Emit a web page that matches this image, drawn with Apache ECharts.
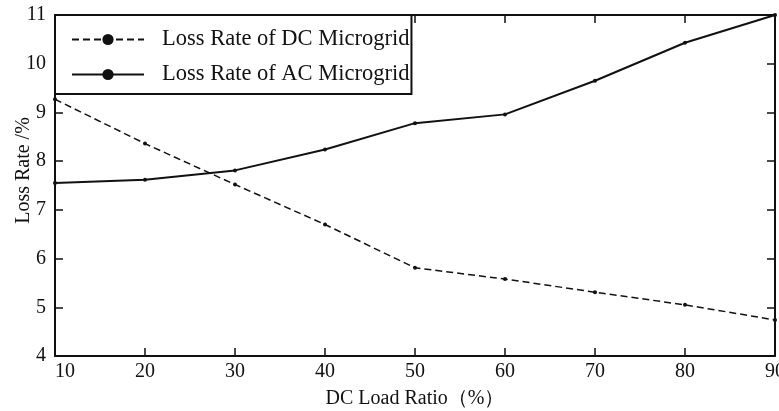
<!DOCTYPE html>
<html>
<head>
<meta charset="utf-8">
<script src="https://cdn.jsdelivr.net/npm/echarts@6/dist/echarts.min.js"></script>
<style>
  html, body { margin: 0; padding: 0; background: #fff; }
  #chart { width: 779px; height: 411px; }
</style>
</head>
<body>
<div id="chart"></div>
<script>
// DC load ratio (%)
var loadRatio = [10, 20, 30, 40, 50, 60, 70, 80, 90];
// loss rate (%) of each microgrid
var dcLoss = [9.27, 8.36, 7.52, 6.70, 5.81, 5.58, 5.31, 5.05, 4.74];
var acLoss = [7.55, 7.62, 7.81, 8.24, 8.78, 8.96, 9.65, 10.43, 11.0];

var seriesNames = ["Loss Rate of DC Microgrid", "Loss Rate of AC Microgrid"];

function pairs(vals) {
  return loadRatio.map(function (x, i) {
    return [x, vals[i]];
  });
}

var font = "Liberation Serif";
var chart = echarts.init(document.getElementById("chart"));

var axisLine = { show: true, lineStyle: { color: "#111", width: 2 } };
var tick = { show: true, inside: true, length: 8, lineStyle: { color: "#111", width: 1.5 } };

var option = {
  backgroundColor: "#fff",
  animation: false,
  grid: { left: 55, right: 4, top: 15, bottom: 55, outerBoundsMode: "none", containLabel: false },
  legend: {
    orient: "vertical",
    left: 55,
    top: 15,
    padding: [13, 2, 8, 16],
    itemGap: 12,
    itemWidth: 72,
    itemHeight: 14,
    borderColor: "#111",
    borderWidth: 2,
    backgroundColor: "#fff",
    textStyle: { fontFamily: font, fontSize: 22.5, color: "#111", padding: [0, 0, 0, 13] },
    data: seriesNames
  },
  xAxis: [
    {
      type: "value",
      min: 10,
      max: 90,
      interval: 10,
      name: "DC Load Ratio（%）",
      nameLocation: "middle",
      nameGap: 33,
      nameTextStyle: { fontFamily: font, fontSize: 20, color: "#111" },
      axisLine: axisLine,
      axisTick: tick,
      splitLine: { show: false },
      axisLabel: { fontFamily: font, fontSize: 20, color: "#111", margin: 6, alignMinLabel: "left" }
    },
    {
      type: "value",
      position: "top",
      min: 10,
      max: 90,
      interval: 10,
      axisLine: axisLine,
      axisTick: tick,
      splitLine: { show: false },
      axisLabel: { show: false }
    }
  ],
  yAxis: [
    {
      type: "value",
      min: 4,
      max: 11,
      interval: 1,
      name: "Loss Rate /%",
      nameLocation: "middle",
      nameGap: 21,
      nameMoveOverlap: false,
      nameTextStyle: { fontFamily: font, fontSize: 20, color: "#111", padding: [0, 0, 0, 30] },
      axisLine: axisLine,
      axisTick: tick,
      splitLine: { show: false },
      axisLabel: { fontFamily: font, fontSize: 20, color: "#111", margin: 9 }
    },
    {
      type: "value",
      position: "right",
      min: 4,
      max: 11,
      interval: 1,
      axisLine: axisLine,
      axisTick: tick,
      splitLine: { show: false },
      axisLabel: { show: false }
    }
  ],
  series: [
    {
      name: seriesNames[0],
      type: "line",
      data: pairs(dcLoss),
      symbol: "circle",
      symbolSize: 4,
      itemStyle: { color: "#111" },
      lineStyle: { color: "#111", width: 1.5, type: [7, 4] }
    },
    {
      name: seriesNames[1],
      type: "line",
      data: pairs(acLoss),
      symbol: "circle",
      symbolSize: 4,
      itemStyle: { color: "#111" },
      lineStyle: { color: "#111", width: 2 }
    }
  ]
};

chart.setOption(option);
</script>
</body>
</html>
